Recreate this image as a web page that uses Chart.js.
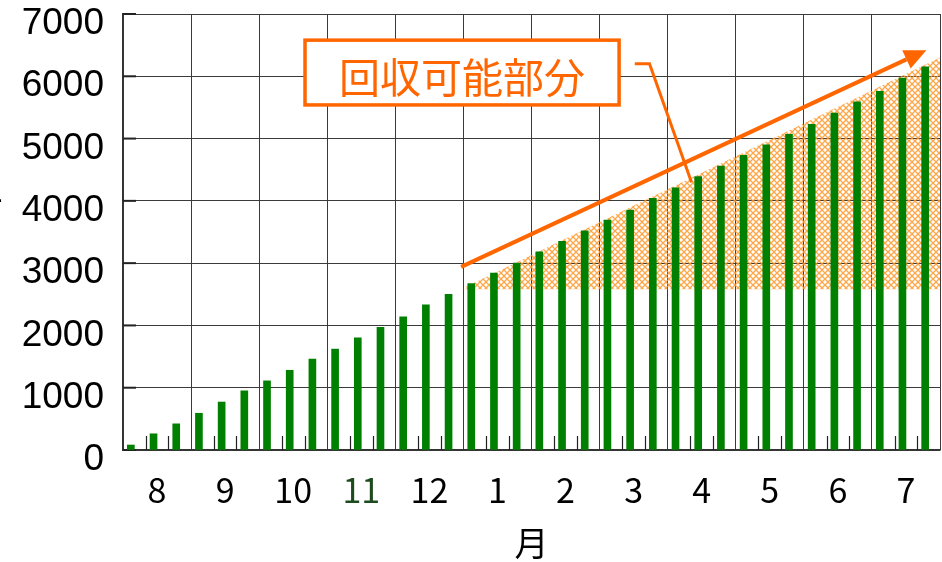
<!DOCTYPE html>
<html lang="ja">
<head>
<meta charset="utf-8">
<title>回収可能部分</title>
<script src="https://cdn.jsdelivr.net/npm/chart.js@4.4.1/dist/chart.umd.min.js"></script>
<style>
  html, body { margin: 0; padding: 0; background: #fff; }
</style>
</head>
<body>
<canvas id="chartRecovery" width="942" height="562"></canvas>
<script>
// months on the x axis (Aug -> Jul), three bars per month
const months = ['8', '9', '10', '11', '12', '1', '2', '3', '4', '5', '6', '7'];
const periodsPerMonth = 3;

// cumulative amount per period
const cumulativeValues = [
    80, 260, 420, 590, 770, 950, 1110, 1280, 1460, 1620, 1800, 1970,
    2140, 2330, 2500, 2670, 2840, 3000, 3180, 3350, 3520, 3690, 3850, 4040,
    4210, 4390, 4560, 4730, 4900, 5070, 5230, 5410, 5590, 5760, 5970, 6150
];

const yTicks = [0, 1000, 2000, 3000, 4000, 5000, 6000, 7000];

// recoverable (hatched) area: top edge in period units, floor value
const recoverTop = [{ x: 15, y: 2600 }, { x: 36, y: 6300 }];
const recoverFloor = 2580;

// annotation geometry, in period units / values
const arrowLine = [{ x: 14.9, y: 2940 }, { x: 35.4, y: 6420 }];
const calloutBox = { x1: 8.02, x2: 21.86, y1: 6580, y2: 5540 };
const calloutText = '回収可能部分';
const calloutLeader = [{ x: 22.55, y: 6200 }, { x: 23.2, y: 6200 }, { x: 25.05, y: 4300 }];

const ORANGE = '#ff6600';
const CJK = '"Noto Sans CJK JP", "Noto Sans", sans-serif';

const categories = months.flatMap(m =>
    Array.from({ length: periodsPerMonth }, (_, k) => m + '-' + (k + 1)));

function makeHatch() {
    const c = document.createElement('canvas');
    c.width = 6; c.height = 6;
    const g = c.getContext('2d');
    g.strokeStyle = 'rgba(255, 150, 40, 0.85)';
    g.lineWidth = 1.3;
    g.beginPath();
    g.moveTo(0, 0); g.lineTo(6, 6);
    g.moveTo(6, 0); g.lineTo(0, 6);
    g.stroke();
    return g.createPattern(c, 'repeat');
}

// short inward ticks between bars along the bottom axis and at the y gridlines
const innerTicks = {
    id: 'innerTicks',
    beforeDatasetsDraw(chart) {
        const { ctx, chartArea } = chart;
        const xs = chart.scales.x2, ys = chart.scales.y;
        ctx.save();
        ctx.strokeStyle = '#222';
        ctx.lineWidth = 1.2;
        for (let i = 1; i < categories.length; i++) {
            if (i % periodsPerMonth === 0) continue;
            const px = Math.round(xs.getPixelForValue(i)) + 0.5;
            ctx.beginPath();
            ctx.moveTo(px, chartArea.bottom);
            ctx.lineTo(px, chartArea.bottom - 14);
            ctx.stroke();
        }
        ctx.lineWidth = 2;
        yTicks.forEach(v => {
            const py = ys.getPixelForValue(v);
            ctx.beginPath();
            ctx.moveTo(chartArea.left, py);
            ctx.lineTo(chartArea.left + 13, py);
            ctx.stroke();
        });
        ctx.restore();
    }
};

// arrow, callout box and the clipped vertical axis title
const annotations = {
    id: 'annotations',
    afterDatasetsDraw(chart) {
        const { ctx } = chart;
        const xs = chart.scales.x2, ys = chart.scales.y;
        const P = p => [xs.getPixelForValue(p.x), ys.getPixelForValue(p.y)];
        ctx.save();

        // arrow
        const [ax0, ay0] = P(arrowLine[0]);
        const [ax1, ay1] = P(arrowLine[1]);
        const ang = Math.atan2(ay1 - ay0, ax1 - ax0);
        const headLen = 22, headW = 10;
        const bx = ax1 - headLen * Math.cos(ang), by = ay1 - headLen * Math.sin(ang);
        ctx.strokeStyle = ORANGE;
        ctx.fillStyle = ORANGE;
        ctx.lineWidth = 4;
        ctx.beginPath();
        ctx.moveTo(ax0, ay0);
        ctx.lineTo(bx, by);
        ctx.stroke();
        ctx.beginPath();
        ctx.moveTo(ax1, ay1);
        ctx.lineTo(bx + headW * Math.sin(ang), by - headW * Math.cos(ang));
        ctx.lineTo(bx - headW * Math.sin(ang), by + headW * Math.cos(ang));
        ctx.closePath();
        ctx.fill();

        // leader line
        ctx.lineWidth = 3;
        ctx.beginPath();
        calloutLeader.forEach((p, i) => {
            const [lx, ly] = P(p);
            if (i === 0) ctx.moveTo(lx, ly); else ctx.lineTo(lx, ly);
        });
        ctx.stroke();

        // callout box
        const [bx1, by1] = P({ x: calloutBox.x1, y: calloutBox.y1 });
        const [bx2, by2] = P({ x: calloutBox.x2, y: calloutBox.y2 });
        ctx.fillStyle = '#fff';
        ctx.fillRect(bx1, by1, bx2 - bx1, by2 - by1);
        ctx.lineWidth = 3.5;
        ctx.strokeRect(bx1, by1, bx2 - bx1, by2 - by1);
        ctx.fillStyle = ORANGE;
        ctx.font = '41px ' + CJK;
        ctx.textAlign = 'center';
        ctx.textBaseline = 'middle';
        ctx.fillText(calloutText, (bx1 + bx2) / 2, (by1 + by2) / 2 + 5);

        // vertical y title, mostly cut off by the left edge
        ctx.fillStyle = '#000';
        ctx.font = '38px ' + CJK;
        ctx.fillText('千', -16, 202);
        ctx.fillText('円', -16, 245);
        ctx.restore();
    }
};

new Chart(document.getElementById('chartRecovery').getContext('2d'), {
    type: 'bar',
    data: {
        labels: categories,
        datasets: [{
            label: '累計',
            data: cumulativeValues,
            backgroundColor: '#008000',
            barThickness: 7,
            order: 0
        }, {
            type: 'line',
            label: '回収可能部分',
            xAxisID: 'x2',
            data: recoverTop,
            borderWidth: 0,
            pointRadius: 0,
            backgroundColor: makeHatch(),
            fill: { value: recoverFloor },
            order: 1
        }]
    },
    options: {
        responsive: false,
        animation: false,
        layout: { padding: { top: 14, right: 2, left: 0, bottom: 0 } },
        plugins: {
            legend: { display: false },
            tooltip: { enabled: false }
        },
        scales: {
            x: {
                grid: {
                    offset: true,
                    drawTicks: false,
                    color: c => (c.index === undefined || c.index % periodsPerMonth === 0) ? '#3a3a3a' : 'rgba(0,0,0,0)'
                },
                border: { color: '#333', width: 1.5 },
                ticks: {
                    autoSkip: false,
                    maxRotation: 0,
                    padding: 20,
                    font: { family: CJK, size: 34 },
                    color: c => months[Math.floor(c.index / periodsPerMonth)] === '11' ? '#1e4b1e' : '#000',
                    callback: function (v, i) {
                        return i % periodsPerMonth === 1 ? months[Math.floor(i / periodsPerMonth)] : '';
                    }
                },
                title: {
                    display: true,
                    text: '月',
                    color: '#000',
                    font: { family: CJK, size: 34, lineHeight: 1 },
                    padding: { top: 0, bottom: 2 }
                },
                afterFit: s => { s.height = 112; s.paddingLeft = 0; s.paddingRight = 0; }
            },
            x2: {
                type: 'linear',
                display: false,
                offset: false,
                min: 0,
                max: categories.length
            },
            y: {
                min: 0,
                max: 7000,
                grid: { color: '#3a3a3a', drawTicks: false },
                border: { color: '#333', width: 1.5 },
                ticks: {
                    padding: 19,
                    labelOffset: 10,
                    color: '#000',
                    font: { family: '"Liberation Sans", Arial, sans-serif', size: 37 },
                    callback: v => String(v)
                },
                afterBuildTicks: s => { s.ticks = yTicks.map(v => ({ value: v })); },
                afterFit: s => { s.width = 123; s.paddingTop = 0; s.paddingBottom = 0; }
            }
        }
    },
    plugins: [innerTicks, annotations]
});
</script>
</body>
</html>
